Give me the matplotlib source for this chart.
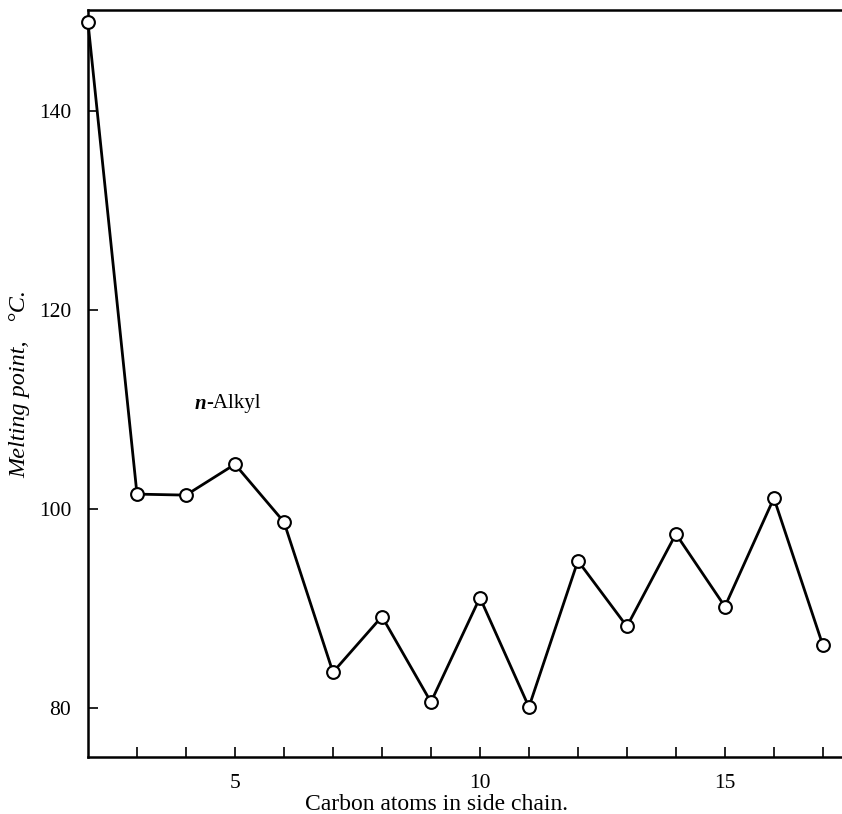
import matplotlib
matplotlib.use("Agg")
import matplotlib.pyplot as plt

# melting points of n-alkyl compounds vs side chain length
carbons = [2, 3, 4, 5, 6, 7, 8, 9, 10, 11, 12, 13, 14, 15, 16, 17]
melting = [148.9, 101.5, 101.4, 104.5, 98.7, 83.6, 89.2, 80.6, 91.1, 80.1,
           94.8, 88.2, 97.5, 90.2, 101.1, 86.3]

xticks = list(range(3, 18))
xticklabels = ["5" if t == 5 else "10" if t == 10 else "15" if t == 15 else "" for t in xticks]
yticks = [80, 100, 120, 140]

plt.rcParams['font.family'] = ['Liberation Serif', 'DejaVu Serif']

fig = plt.figure(figsize=(8.42, 8.14), dpi=100)
ax = fig.add_axes([0.1045, 0.070, 0.8955, 0.9177])

ax.plot(carbons, melting, color='black', lw=2.0, marker='o', ms=9.2,
        mfc='white', mec='black', mew=1.5, zorder=3, clip_on=False)

ax.set_xlim(2, 17.39)
ax.set_ylim(75.08, 150.15)

ax.set_xticks(xticks)
ax.set_xticklabels(xticklabels)
ax.set_yticks(yticks)
ax.tick_params(direction='in', length=7, width=1.2, labelsize=15.5, pad=12)

ax.spines['right'].set_visible(False)
for s in ['left', 'top', 'bottom']:
    ax.spines[s].set_linewidth(1.8)

ax.set_xlabel("Carbon atoms in side chain.", fontsize=17)
ax.xaxis.set_label_coords(0.462, -0.0495)
ax.set_ylabel("Melting point,   \u00b0C.", fontsize=17.5, fontstyle='italic', labelpad=6)

ax.text(4.42, 110.6, "n", fontsize=15, fontstyle='italic', fontweight='bold',
        ha='right', va='center')
ax.text(4.42, 110.6, "-Alkyl", fontsize=15, ha='left', va='center')

fig.savefig("out.png", dpi=100)
